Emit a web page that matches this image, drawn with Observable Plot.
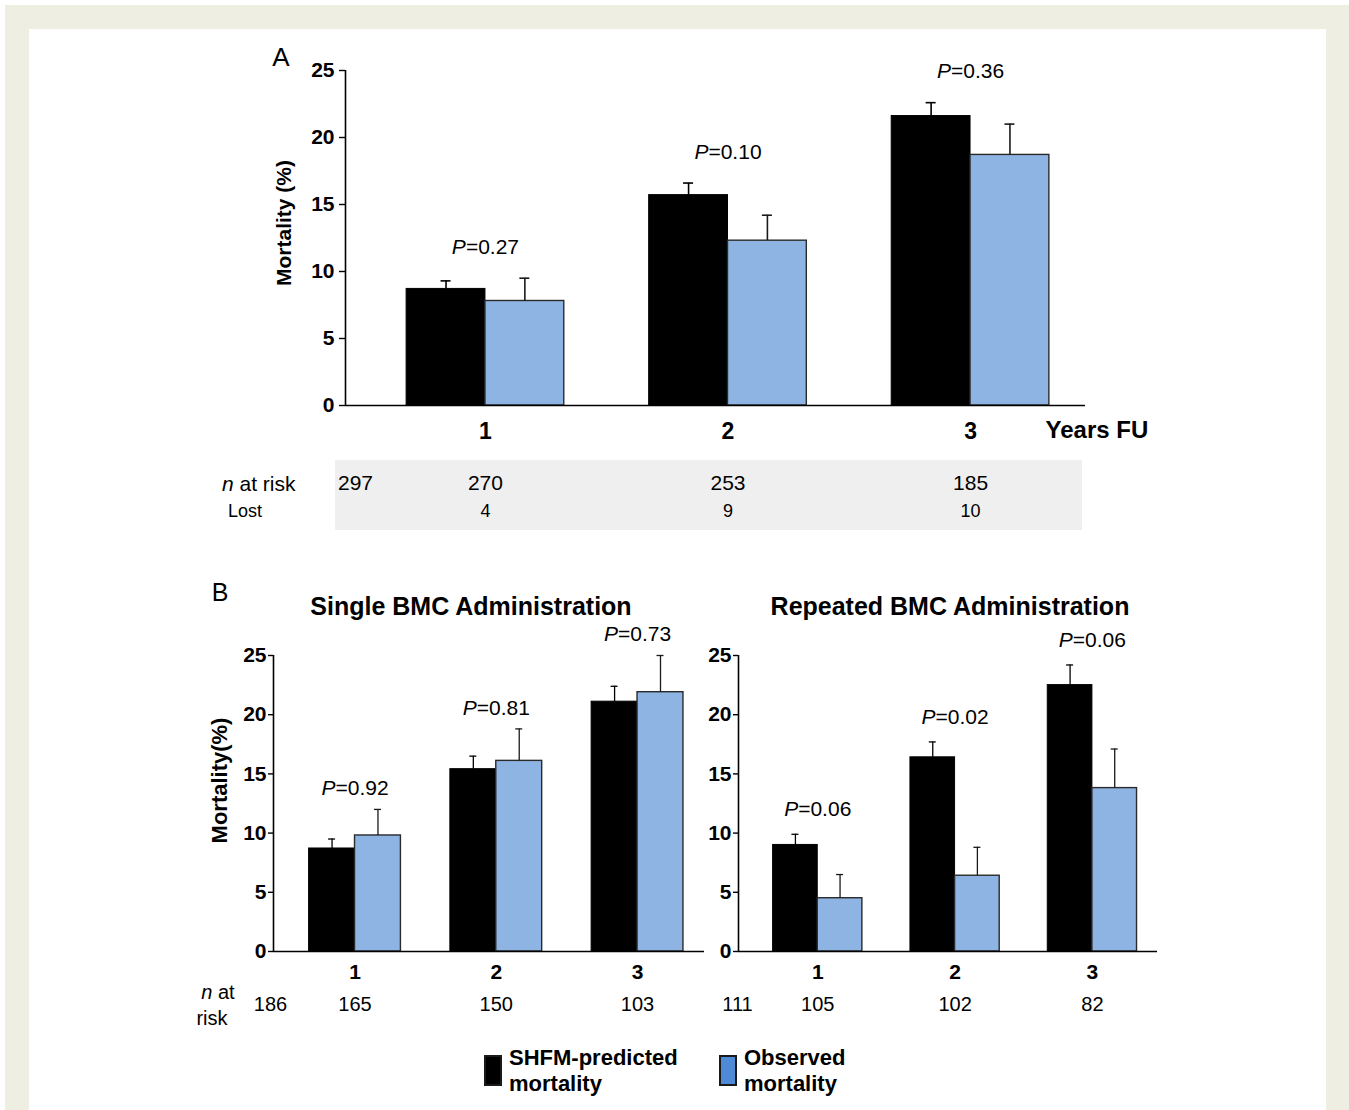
<!DOCTYPE html>
<html><head><meta charset="utf-8">
<script src="https://cdn.jsdelivr.net/npm/d3@7"></script>
<script src="https://cdn.jsdelivr.net/npm/@observablehq/plot@0.6"></script>
<style>
html,body{margin:0;padding:0;background:#fff;}
#page{position:relative;width:1349px;height:1110px;overflow:hidden;font-family:"Liberation Sans",Arial,Helvetica,sans-serif;color:#000;}
#frame{position:absolute;left:5px;top:5px;width:1344px;height:1105px;background:#eeeee3;}
#inner{position:absolute;left:29px;top:29px;width:1297px;height:1081px;background:#fff;}
.t{position:absolute;white-space:nowrap;line-height:1;}
.c{transform:translate(-50%,-50%);}
.l{transform:translate(0,-50%);}
#grayA{position:absolute;left:335px;top:460px;width:747px;height:70px;background:#efefef;}
.sw{position:absolute;box-sizing:border-box;}
</style></head><body>
<div id="page">
  <div id="frame"></div>
  <div id="inner"></div>
  <div id="grayA"></div>
</div>
<script>
// ---------- data ----------
const years = [1, 2, 3];
// Panel A (all patients)
const predA = [8.7, 15.7, 21.6];
const predAErr = [0.6, 0.9, 1.0];
const obsA = [7.8, 12.3, 18.7];
const obsAErr = [1.7, 1.9, 2.3];
const pA = ["0.27", "0.10", "0.36"];
const nRiskA = [297, 270, 253, 185];
const lostA = [4, 9, 10];
// Panel B: single BMC administration
const predSingle = [8.7, 15.4, 21.1];
const predSingleErr = [0.8, 1.1, 1.3];
const obsSingle = [9.8, 16.1, 21.9];
const obsSingleErr = [2.2, 2.7, 3.1];
const pSingle = ["0.92", "0.81", "0.73"];
const nRiskSingle = [186, 165, 150, 103];
// Panel B: repeated BMC administration
const predRep = [9.0, 16.4, 22.5];
const predRepErr = [0.9, 1.3, 1.7];
const obsRep = [4.5, 6.4, 13.8];
const obsRepErr = [2.0, 2.4, 3.3];
const pRep = ["0.06", "0.02", "0.06"];
const nRiskRep = [111, 105, 102, 82];
const yTicks = [0, 5, 10, 15, 20, 25];
const seriesNames = ["SHFM-predicted mortality", "Observed mortality"];

// ---------- style ----------
const BLACK = "#000";
const BLUE = "#8eb4e3";
const BLUE_LEGEND = "#4f8ad6";
const FONT = '"Liberation Sans", Arial, Helvetica, sans-serif';
const xDomain = [0.423, 3.474];
const barW = 0.325;

const page = document.getElementById("page");

function panel(cfg) {
  const rows = years.map((yr, i) => ({
    year: yr,
    pred: cfg.pred[i], predErr: cfg.predErr[i],
    obs: cfg.obs[i], obsErr: cfg.obsErr[i],
    p: cfg.p[i], n: cfg.nRisk[i + 1],
    lost: cfg.lost ? cfg.lost[i] : null
  }));
  const frameW = cfg.width - cfg.ml - cfg.mr;
  const cap = cfg.capPx / (frameW / (xDomain[1] - xDomain[0]));
  const cP = d => d.year - barW / 2;
  const cO = d => d.year + barW / 2;
  const marks = [
    Plot.rectY(rows, {x1: d => d.year - barW, x2: "year", y1: 0, y2: "pred", fill: BLACK, stroke: BLACK, strokeWidth: 1}),
    Plot.rectY(rows, {x1: "year", x2: d => d.year + barW, y1: 0, y2: "obs", fill: BLUE, stroke: "#2a2a2a", strokeWidth: 1.4}),
    Plot.ruleX(rows, {x: cP, y1: "pred", y2: d => d.pred + d.predErr, stroke: BLACK, strokeWidth: cfg.errW}),
    Plot.ruleY(rows, {y: d => d.pred + d.predErr, x1: d => cP(d) - cap, x2: d => cP(d) + cap, stroke: BLACK, strokeWidth: cfg.errW}),
    Plot.ruleX(rows, {x: cO, y1: "obs", y2: d => d.obs + d.obsErr, stroke: "#1a1a1a", strokeWidth: cfg.errW}),
    Plot.ruleY(rows, {y: d => d.obs + d.obsErr, x1: d => cO(d) - cap, x2: d => cO(d) + cap, stroke: "#1a1a1a", strokeWidth: cfg.errW}),
    Plot.ruleY([0], {stroke: BLACK, strokeWidth: 1.6}),
    Plot.ruleX([xDomain[0]], {y1: 0, y2: 25, stroke: BLACK, strokeWidth: 1.6}),
    Plot.axisY({ticks: yTicks, tickSize: cfg.tickSize, tickPadding: cfg.tickPad, fontSize: cfg.yFont, fontWeight: "bold", label: null, strokeWidth: 1.4}),
    Plot.axisX({ticks: years, tickSize: 0, tickPadding: cfg.xPad, fontSize: cfg.xFont, fontWeight: "bold", label: null, tickFormat: d => String(d)}),
    Plot.text(rows, {x: "year", y: d => Math.max(d.pred + d.predErr, d.obs + d.obsErr), text: d => "P=" + d.p,
      dy: -cfg.pOff, lineAnchor: "middle", fontSize: 21}),
    Plot.text(rows, {x: "year", text: d => String(d.n), frameAnchor: "bottom", lineAnchor: "middle", textAnchor: "middle", dy: cfg.nDy, fontSize: cfg.nFont}),
    Plot.text([cfg.nRisk[0]], {text: d => String(d), frameAnchor: "bottom-left", lineAnchor: "middle", textAnchor: "middle", dx: cfg.n0Dx, dy: cfg.nDy, fontSize: cfg.nFont})
  ];
  if (cfg.lost) {
    marks.push(Plot.text(rows, {x: "year", text: d => String(d.lost), frameAnchor: "bottom", lineAnchor: "middle", textAnchor: "middle", dy: cfg.lostDy, fontSize: 18}));
  }
  if (cfg.yLabel) {
    marks.push(Plot.text([cfg.yLabel], {frameAnchor: "left", rotate: -90, textAnchor: "middle", lineAnchor: "middle",
      dx: cfg.yLabDx, dy: cfg.yLabDy, fontWeight: "bold", fontSize: cfg.yLabFont}));
  }
  if (cfg.xLabel) {
    marks.push(Plot.text([cfg.xLabel], {frameAnchor: "bottom-right", textAnchor: "start", lineAnchor: "middle",
      dx: -40, dy: 25, fontWeight: "bold", fontSize: 24}));
  }
  const svg = Plot.plot({
    width: cfg.width, height: cfg.height,
    marginLeft: cfg.ml, marginRight: cfg.mr, marginTop: cfg.mt, marginBottom: cfg.mb,
    x: {type: "linear", domain: xDomain},
    y: {type: "linear", domain: [0, 25]},
    marks
  });
  svg.style.position = "absolute";
  svg.style.left = cfg.left + "px";
  svg.style.top = cfg.top + "px";
  svg.style.background = "transparent";
  svg.style.overflow = "visible";
  svg.style.maxWidth = "none";
  svg.style.fontFamily = FONT;
  svg.style.color = "#000";
  // italic P in P-value labels
  d3.select(svg).selectAll("text").filter(function () { return /^P=/.test(this.textContent); }).each(function () {
    const t = this.textContent;
    this.textContent = "";
    d3.select(this).append("tspan").attr("font-style", "italic").text("P");
    d3.select(this).append("tspan").text(t.slice(1));
  });
  page.appendChild(svg);
}

panel({pred: predA, predErr: predAErr, obs: obsA, obsErr: obsAErr, p: pA, nRisk: nRiskA, lost: lostA,
  left: 180, top: 30, width: 1000, height: 515, ml: 165, mr: 95, mt: 40, mb: 140,
  capPx: 5, errW: 1.6, tickSize: 6, tickPad: 5, yFont: 21, xFont: 23, xPad: 17, pOff: 31,
  nDy: 78, lostDy: 106, nFont: 21, n0Dx: 10, yLabel: "Mortality (%)", yLabDx: -61, yLabDy: -15, yLabFont: 21, xLabel: "Years FU"});

panel({pred: predSingle, predErr: predSingleErr, obs: obsSingle, obsErr: obsSingleErr, p: pSingle, nRisk: nRiskSingle,
  left: 180, top: 615, width: 530, height: 416, ml: 93, mr: 6, mt: 40, mb: 80,
  capPx: 3.5, errW: 1.3, tickSize: 5, tickPad: 2, yFont: 21, xFont: 21, xPad: 13, pOff: 21,
  nDy: 53, nFont: 20, n0Dx: -3, yLabel: "Mortality(%)", yLabDx: -54, yLabDy: -23, yLabFont: 22});

panel({pred: predRep, predErr: predRepErr, obs: obsRep, obsErr: obsRepErr, p: pRep, nRisk: nRiskRep,
  left: 650, top: 615, width: 530, height: 416, ml: 88, mr: 23, mt: 40, mb: 80,
  capPx: 3.5, errW: 1.3, tickSize: 5, tickPad: 2, yFont: 21, xFont: 21, xPad: 13, pOff: 25,
  nDy: 53, nFont: 20, n0Dx: -1});

// ---------- HTML annotations ----------
function addText(html, x, y, cls, style) {
  const d = document.createElement("div");
  d.className = "t " + cls;
  d.innerHTML = html;
  d.style.left = x + "px";
  d.style.top = y + "px";
  Object.assign(d.style, style || {});
  page.appendChild(d);
  return d;
}
addText("A", 281, 57, "c", {fontSize: "26px"});
addText("B", 220, 592, "c", {fontSize: "25px"});
addText("<i>n</i> at risk", 222, 483, "l", {fontSize: "21px"});
addText("Lost", 228, 511, "l", {fontSize: "18px"});
addText("Single BMC Administration", 471, 606, "c", {fontSize: "25px", fontWeight: "bold"});
addText("Repeated BMC Administration", 950, 606, "c", {fontSize: "25px", fontWeight: "bold"});
addText("<i>n</i> at", 218, 992, "c", {fontSize: "20px"});
addText("risk", 212, 1018, "c", {fontSize: "20px"});

// legend
const legendColors = [BLACK, BLUE_LEGEND];
const legendX = [484, 719];
seriesNames.forEach((name, i) => {
  const sw = document.createElement("div");
  sw.className = "sw";
  Object.assign(sw.style, {left: legendX[i] + "px", top: "1055px", width: "18px", height: "31px",
    background: legendColors[i], border: "2px solid #1a1a1a"});
  page.appendChild(sw);
  const words = name.split(" ");
  addText(words[0], legendX[i] + 25, 1058, "l", {fontSize: "22px", fontWeight: "bold"});
  addText(words.slice(1).join(" "), legendX[i] + 25, 1084, "l", {fontSize: "22px", fontWeight: "bold"});
});
</script>
</body></html>
